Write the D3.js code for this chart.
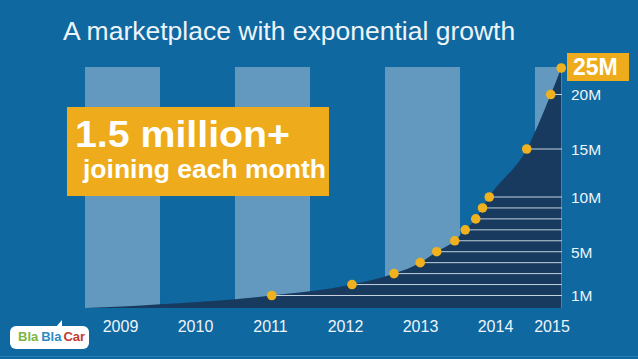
<!DOCTYPE html>
<html>
<head>
<meta charset="utf-8">
<script src="https://cdn.jsdelivr.net/npm/d3@7"></script>
<style>
  html, body { margin: 0; padding: 0; background: #0f68a0; }
  svg { display: block; }
</style>
</head>
<body>
<script>
// ---- data ----
const yearLabels = [2009, 2010, 2011, 2012, 2013, 2014, 2015];
const stripeYears = [2009, 2011, 2013, 2015];
// early growth of the member curve (fractional year, millions)
const earlyYears = [2009.0, 2009.5, 2010.0, 2010.5, 2011.0];
const earlyMembers = [0.0, 0.12, 0.3, 0.48, 0.7];
// milestone points (fractional year, millions)
const milestoneYears = [2011.49, 2012.56, 2013.12, 2013.47, 2013.69, 2013.93, 2014.07, 2014.21, 2014.30, 2014.39, 2014.89, 2015.21, 2015.35];
const milestoneMembers = [1, 2, 3, 4, 5, 6, 7, 8, 9, 10, 15, 20, 25];
const tickValues = [1, 5, 10, 15, 20];
const tickLabels = ["1M", "5M", "10M", "15M", "20M"];
const highlightLabel = "25M";
const title = "A marketplace with exponential growth";
const calloutLine1 = "1.5 million+";
const calloutLine2 = "joining each month";

// ---- layout ----
const W = 638, H = 359;
const C = {
  bg: "#0f68a0", stripe: "#6399bf", area: "#173a5e", dot: "#f0b11e",
  grid: "#c3d2de", text: "#eef4f9", callout: "#eeab1c"
};
const xEnd = 2015.36;
const x = d3.scaleLinear().domain([2009, xEnd]).range([85, 562]);
const y = d3.scaleLinear().domain([0, 1, 10, 15, 20, 25]).range([308, 295.5, 197, 149, 94.5, 68]);

const svg = d3.select("body").append("svg").attr("width", W).attr("height", H);
svg.append("rect").attr("width", W).attr("height", H).attr("fill", C.bg);
svg.append("rect").attr("x", 0).attr("y", 356).attr("width", W).attr("height", 1).attr("fill", "#2a7db4");

// title
svg.append("text").attr("x", 63).attr("y", 39.5)
  .attr("font-family", "Liberation Sans, Arial, sans-serif").attr("font-size", 26.5)
  .attr("fill", C.text).text(title);

// stripes
svg.append("g").selectAll("rect").data(stripeYears).join("rect")
  .attr("x", d => x(d))
  .attr("y", 67)
  .attr("width", d => Math.min(x(d + 1), x(xEnd)) - x(d))
  .attr("height", y(0) - 67)
  .attr("fill", C.stripe);

// area
const curveData = earlyYears.map((t, i) => [t, earlyMembers[i]])
  .concat(milestoneYears.map((t, i) => [t, milestoneMembers[i]]));
const area = d3.area().x(d => x(d[0])).y0(y(0)).y1(d => y(d[1])).curve(d3.curveMonotoneX);
svg.append("path").datum(curveData).attr("d", area).attr("fill", C.area);

// milestone guide lines
svg.append("g").selectAll("line").data(milestoneYears.slice(0, -1)).join("line")
  .attr("x1", d => x(d)).attr("x2", x(xEnd))
  .attr("y1", (d, i) => y(milestoneMembers[i])).attr("y2", (d, i) => y(milestoneMembers[i]))
  .attr("stroke", C.grid).attr("stroke-width", 1);

// dots
svg.append("g").selectAll("circle").data(milestoneYears).join("circle")
  .attr("cx", d => x(d)).attr("cy", (d, i) => y(milestoneMembers[i]))
  .attr("r", 4.8).attr("fill", C.dot);

// right axis
const axis = d3.axisRight(y).tickValues(tickValues).tickSize(0).tickPadding(9)
  .tickFormat((d, i) => tickLabels[i]);
const ag = svg.append("g").attr("transform", `translate(${x(xEnd)},0)`).call(axis);
ag.select(".domain").remove();
ag.selectAll("text").attr("fill", C.text).attr("font-size", 15.5)
  .attr("font-family", "Liberation Sans, Arial, sans-serif").attr("dy", "0.34em");

// 25M highlight
const last = milestoneMembers.length - 1;
svg.append("rect").attr("x", 567).attr("y", y(milestoneMembers[last]) - 15).attr("width", 62).attr("height", 28)
  .attr("fill", C.callout);
svg.append("text").attr("x", 573).attr("y", y(milestoneMembers[last]) + 7)
  .attr("font-family", "Liberation Sans, Arial, sans-serif").attr("font-weight", "bold")
  .attr("font-size", 23).attr("fill", "#ffffff").text(highlightLabel);

// year labels
svg.append("g").selectAll("text").data(yearLabels).join("text")
  .attr("x", d => Math.min(x(d + 0.5) - 2, x(xEnd) - 10))
  .attr("y", 332)
  .attr("text-anchor", "middle")
  .attr("font-family", "Liberation Sans, Arial, sans-serif").attr("font-size", 16)
  .attr("fill", C.text).text(d => d);

// callout
svg.append("rect").attr("x", 67).attr("y", 107).attr("width", 262).attr("height", 89).attr("fill", C.callout);
svg.append("text").attr("x", 75).attr("y", 147)
  .attr("font-family", "Liberation Sans, Arial, sans-serif").attr("font-weight", "bold")
  .attr("font-size", 37).attr("fill", "#ffffff")
  .attr("textLength", 215).attr("lengthAdjust", "spacingAndGlyphs").text(calloutLine1);
svg.append("text").attr("x", 83).attr("y", 178)
  .attr("font-family", "Liberation Sans, Arial, sans-serif").attr("font-weight", "bold")
  .attr("font-size", 26).attr("fill", "#ffffff")
  .attr("textLength", 243).attr("lengthAdjust", "spacingAndGlyphs").text(calloutLine2);

// logo
const logo = svg.append("g");
logo.append("path").attr("d", "M56,327 L62,320 L62,327 Z").attr("fill", "#ffffff");
logo.append("rect").attr("x", 10).attr("y", 326).attr("width", 79).attr("height", 23).attr("rx", 6).attr("fill", "#ffffff");
const lt = logo.append("text").attr("x", 18).attr("y", 341)
  .attr("font-family", "Liberation Sans, Arial, sans-serif").attr("font-weight", "bold").attr("font-size", 13);
lt.append("tspan").attr("fill", "#7cb642").text("Bla");
lt.append("tspan").attr("fill", "#2f8ac4").attr("dx", 3).text("Bla");
lt.append("tspan").attr("fill", "#c23a32").attr("dx", 2).text("Car");
</script>
</body>
</html>
